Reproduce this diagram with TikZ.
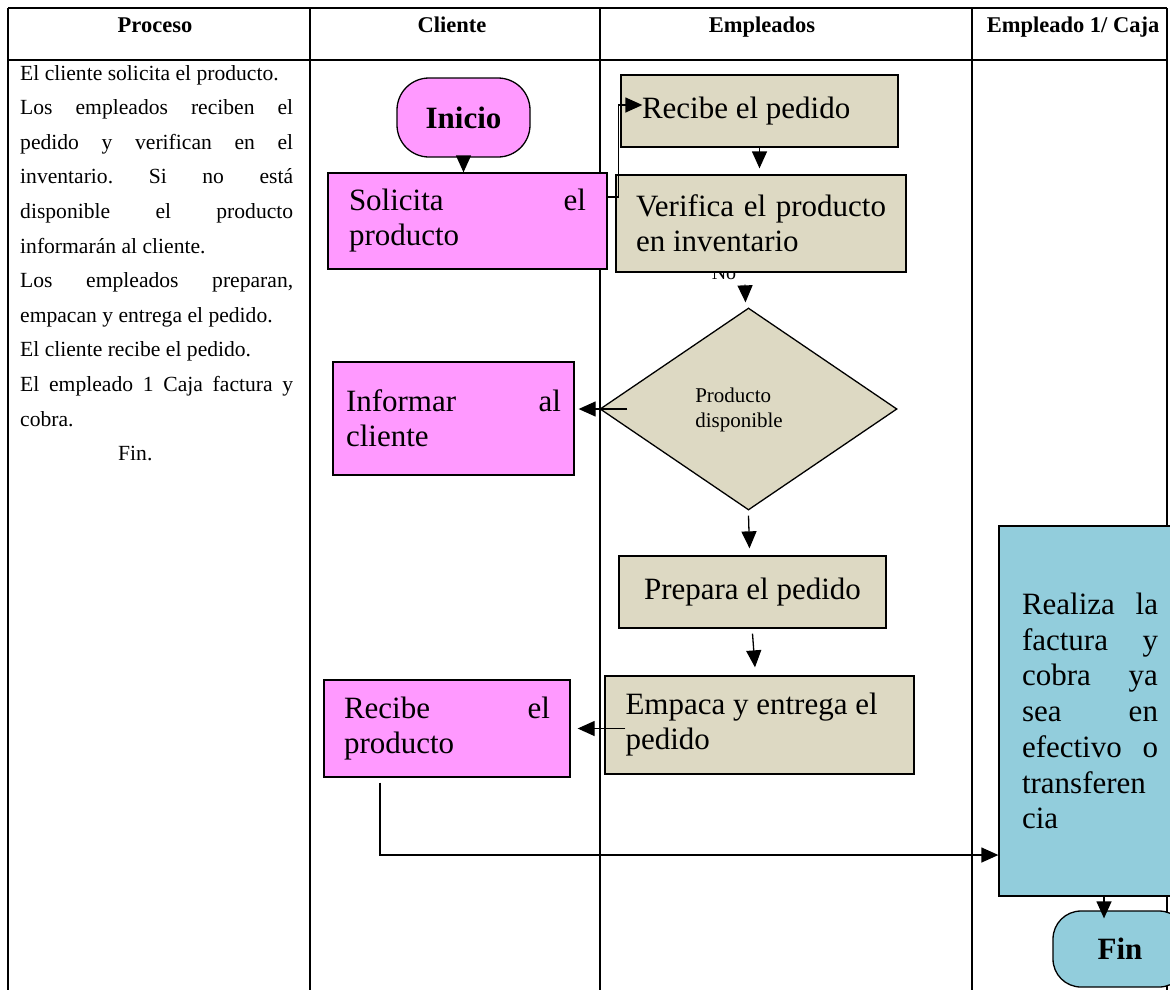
\documentclass[tikz,border=0pt]{standalone}
\usepackage{fontspec}
\setmainfont{Liberation Serif}
\usetikzlibrary{shapes.geometric,arrows.meta,calc}
\definecolor{pinkf}{HTML}{FF99FF}
\definecolor{tanf}{HTML}{DDD9C3}
\definecolor{bluef}{HTML}{92CDDC}
\newcommand{\jl}[1]{\makebox[\linewidth][s]{#1}}
\frenchspacing
\begin{document}
\begin{tikzpicture}[x=1pt,y=-1pt,
 gridline/.style={line width=1.7pt},
 boxbase/.style={draw, line width=1.3pt, inner sep=0pt, align=center, font=\fontsize{31}{35}\selectfont},
 pinkbox/.style={boxbase, fill=pinkf},
 tanbox/.style={boxbase, fill=tanf},
 bluebox/.style={boxbase, fill=bluef},
 arr/.style={line width=1.3pt, -{Triangle[width=15pt,length=17pt]}},
 hdr/.style={font=\fontsize{22.5}{26}\selectfont\bfseries, inner sep=0pt, anchor=base},
]
\useasboundingbox (0,0) rectangle (1170,989);
\clip (0,0) rectangle (1170,989);
% table
\draw[gridline] (8,8) -- (1167,8);
\draw[gridline] (8,60) -- (1167,60);
\foreach \x in {8,310,600,972,1167} \draw[gridline] (\x,8) -- (\x,995);
\node[hdr] (h1) at (155,32) {Proceso};
\node[hdr] (h2) at (452,32) {Cliente};
\node[hdr] (h3) at (762,32) {Empleados};
\node[hdr] (h4) at (1073,32) {Empleado 1/ Caja};
% process text
\node[anchor=base west, inner sep=0pt, font=\fontsize{21.6}{34.6}\selectfont] (proc) at (20,80) {\parbox[t]{273pt}{%
El cliente solicita el producto.\\
\jl{Los empleados reciben el}\\
\jl{pedido y verifican en el}\\
\jl{inventario. Si no está}\\
\jl{disponible el producto}\\
informarán al cliente.\\
\jl{Los empleados preparan,}\\
empacan y entrega el pedido.\\
El cliente recibe el pedido.\\
\jl{El empleado 1 Caja factura y}\\
cobra.\\
\hspace*{98pt}Fin.}};
% No label (partly hidden)
\node[anchor=base, inner sep=0pt, font=\fontsize{20}{24}\selectfont] (nolab) at (724,279) {No};
% nodes
\node[pinkbox, rounded corners=32pt, minimum width=133pt, minimum height=79pt, font=\fontsize{31}{35}\selectfont\bfseries] (ini) at (463.5,117.5) {Inicio};
\node[pinkbox, minimum width=279pt, minimum height=96pt] (sol) at (467.5,221) {\parbox{237pt}{\jl{Solicita el}\\producto}};
\node[tanbox, minimum width=277pt, minimum height=72pt] (rec) at (759.5,111) {\parbox{235pt}{Recibe el pedido}};
\node[tanbox, minimum width=290pt, minimum height=97pt] (ver) at (761,223.5) {\parbox{250pt}{\jl{Verifica el producto}\\en inventario}};
\node[diamond, draw, fill=tanf, line width=1.3pt, minimum width=297pt, minimum height=202pt, inner sep=0pt] (dia) at (748.5,409) {};
\node[inner sep=0pt, align=left, font=\fontsize{21}{25}\selectfont] (dlab) at (739,410) {Producto\\disponible};
\node[pinkbox, minimum width=241pt, minimum height=113pt] (inf) at (453.5,418.5) {\parbox{215pt}{\jl{Informar al}\\cliente}};
\node[tanbox, minimum width=267pt, minimum height=72pt] (prep) at (752.5,592) {Prepara el pedido};
\node[tanbox, minimum width=309pt, minimum height=98pt] (emp) at (759.5,725) {\parbox{268pt}{Empaca y entrega el\\pedido}};
\node[pinkbox, minimum width=246pt, minimum height=97pt] (rec2) at (447,728.5) {\parbox{206pt}{\jl{Recibe el}\\producto}};
\node[bluebox, minimum width=182pt, minimum height=370pt, font=\fontsize{31}{35.7}\selectfont] (real) at (1090,711) {\parbox{136pt}{\jl{Realiza la}\\\jl{factura y}\\\jl{cobra ya}\\\jl{sea en}\\\jl{efectivo o}\\transferen\\cia}};
\node[bluebox, rounded corners=28pt, minimum width=134pt, minimum height=76pt, font=\fontsize{31}{35}\selectfont\bfseries] (fin) at (1120,949) {Fin};
% connectors
\draw[arr] (ini.south) -- (ini.south |- sol.north);
\draw[arr] ([yshift=24pt]sol.east) -- ++(11,0) |- ([xshift=22pt,yshift=6pt]rec.west);
\draw[arr] (rec.south) -- ([yshift=6pt]ver.north -| rec.south);
\draw[arr] ([xshift=-16pt,yshift=-12pt]ver.south) -- ([xshift=-3pt,yshift=5pt]dia.north);
\draw[arr] ([xshift=28pt]dia.west) -- ([xshift=4pt]inf.east |- dia.west);
\draw[arr] ([yshift=-5pt]dia.south) -- ([xshift=-3pt,yshift=7pt]prep.north);
\draw[arr] ([yshift=-5pt]prep.south) -- ([xshift=-4.5pt,yshift=8pt]emp.north);
\draw[arr] ([xshift=21pt]emp.west |- rec2.east) -- ([xshift=7pt]rec2.east);
\draw[arr] ([xshift=-67pt,yshift=-5pt]rec2.south) |- ([yshift=-144pt]real.west);
\draw[arr] ([xshift=14pt]real.south) -- ([xshift=-16pt,yshift=-8pt]fin.north);
\end{tikzpicture}
\end{document}
